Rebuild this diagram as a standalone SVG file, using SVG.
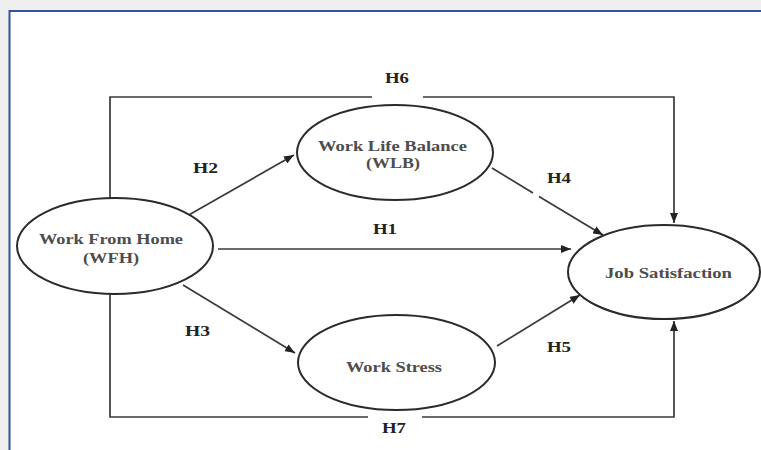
<svg xmlns="http://www.w3.org/2000/svg" width="761" height="450" viewBox="0 0 761 450">
<defs>
<marker id="arr" markerUnits="userSpaceOnUse" markerWidth="11" markerHeight="8" refX="10" refY="4" orient="auto">
<path d="M0,0 L10,4 L0,8 z" fill="#222"/>
</marker>
<style>
.node ellipse{fill:#fff;stroke:#2a2a2a;stroke-width:2}
.node text{font-family:"Liberation Serif","Times New Roman",serif;font-weight:bold;font-size:14px;fill:#4d4d4d;text-anchor:middle}
.conn path{fill:none;stroke:#3a3a3a;stroke-width:1.7}
.lbl{font-family:"Liberation Serif","Times New Roman",serif;font-weight:bold;font-size:15px;fill:#222}
</style>
</defs>
<rect x="0" y="0" width="761" height="450" fill="#efefef"/>
<rect x="9.5" y="11" width="760" height="450" fill="#fff" stroke="#2f5597" stroke-width="2"/>
<g id="connectors" class="conn">
<path d="M110,199 V97 H372 M423,97 H674 V223" marker-end="url(#arr)"/>
<path d="M110,294 V417 H368 M422,417 H674 V321" marker-end="url(#arr)"/>
<path d="M218,249 H571" marker-end="url(#arr)"/>
<path d="M187,216 L294,155" marker-end="url(#arr)"/>
<path d="M183,285 L295,353" marker-end="url(#arr)"/>
<path d="M492,168 L533,193 M539,196.5 L603,235" marker-end="url(#arr)"/>
<path d="M497,346 L580,295" marker-end="url(#arr)"/>
</g>
<g id="labels">
<text class="lbl" x="385" y="83" textLength="24" lengthAdjust="spacingAndGlyphs">H6</text>
<text class="lbl" x="193" y="173" textLength="25" lengthAdjust="spacingAndGlyphs">H2</text>
<text class="lbl" x="547" y="183" textLength="24" lengthAdjust="spacingAndGlyphs">H4</text>
<text class="lbl" x="373" y="234" textLength="24" lengthAdjust="spacingAndGlyphs">H1</text>
<text class="lbl" x="185" y="336" textLength="25" lengthAdjust="spacingAndGlyphs">H3</text>
<text class="lbl" x="547" y="352" textLength="24" lengthAdjust="spacingAndGlyphs">H5</text>
<text class="lbl" x="382" y="433" textLength="24" lengthAdjust="spacingAndGlyphs">H7</text>
</g>
<g id="wfh" class="node">
<ellipse cx="115" cy="246" rx="98" ry="48"/>
<text x="111" y="244" textLength="144" lengthAdjust="spacingAndGlyphs">Work From Home</text>
<text x="111" y="263" textLength="56" lengthAdjust="spacingAndGlyphs">(WFH)</text>
</g>
<g id="wlb" class="node">
<ellipse cx="395" cy="152.5" rx="98" ry="47.5"/>
<text x="392.5" y="151" textLength="149" lengthAdjust="spacingAndGlyphs">Work Life Balance</text>
<text x="393" y="168" textLength="54" lengthAdjust="spacingAndGlyphs">(WLB)</text>
</g>
<g id="ws" class="node">
<ellipse cx="396.5" cy="362.5" rx="98.5" ry="47.5"/>
<text x="394" y="372" textLength="96" lengthAdjust="spacingAndGlyphs">Work Stress</text>
</g>
<g id="js" class="node">
<ellipse cx="664" cy="272" rx="96" ry="47"/>
<text x="668.5" y="278" textLength="127" lengthAdjust="spacingAndGlyphs">Job Satisfaction</text>
</g>
</svg>
